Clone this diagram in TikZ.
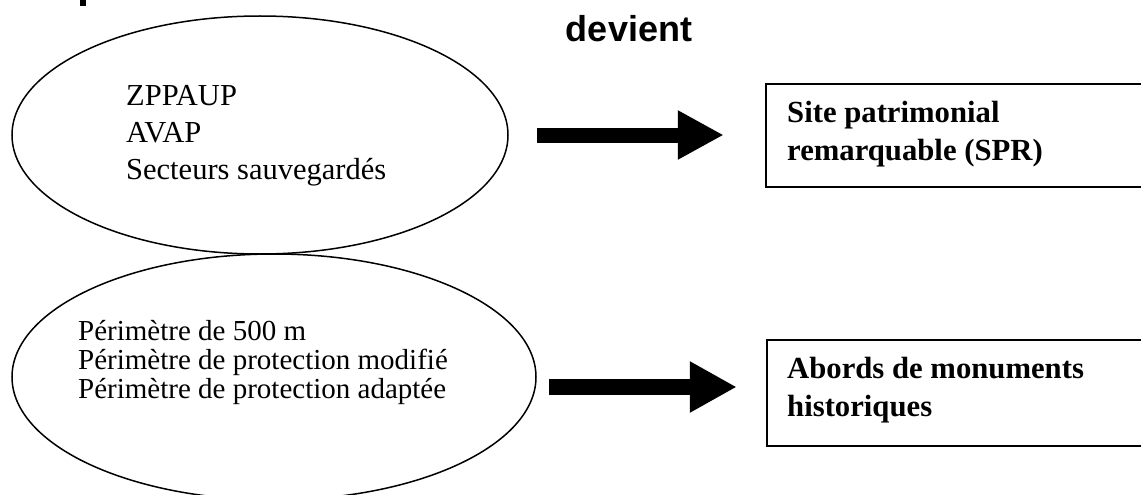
\documentclass[tikz,border=0pt]{standalone}
\usepackage{fontspec}
\setmainfont{Liberation Serif}
\newfontfamily\headfont{Liberation Sans}
\usetikzlibrary{shapes,positioning,arrows.meta,calc}

\tikzset{
	every node/.style = { align = left },
	zone/.style = { ellipse, draw, line width=1.5pt, inner sep=0pt },
	txt/.style = { font=\fontsize{30.5}{37}\selectfont, inner sep=0pt, anchor=base west },
	res/.style = { rectangle, draw, line width=1.8pt, minimum width=420pt, anchor=north west, inner sep=0pt },
	restxt/.style = { font=\fontsize{30.7}{38}\selectfont\bfseries, inner sep=0pt, anchor=base west },
	head/.style = { font=\headfont\bfseries\fontsize{36}{40}\selectfont, inner sep=0pt },
	conv/.style = { line width=15pt, -{Triangle[length=46pt,width=46pt]} },
}

\begin{document}
\begin{tikzpicture}[x=1pt,y=1pt]
\useasboundingbox (0,0) rectangle (1141,-495);

% stub of the heading above the page
\fill (80,1) rectangle (86,-6);
\node (dev)   [head, anchor=base] at (629,-42) {devient};

\node (zone)  [zone, minimum width=496pt, minimum height=238pt] at (260,-135) {};
\node (perim) [zone, minimum width=524pt, minimum height=246pt] at (274,-377) {};
\node (spr)   [res, minimum height=103pt] at (765,-83) {};
\node (amh)   [res, minimum height=106pt] at (766,-339) {};

\node (tzone)  [txt] at (126,-179) {ZPPAUP \\ AVAP \\ Secteurs sauvegardés};
\node (tperim) [txt, font=\fontsize{29}{28.7}\selectfont] at (78,-398)
	{Périmètre de 500 m \\ Périmètre de protection modifié \\ Périmètre de protection adaptée};
\node (tspr)   [restxt] at (787,-160) {Site patrimonial \\ remarquable (SPR)};
\node (tamh)   [restxt] at (787,-416) {Abords de monuments \\ historiques};

\draw[conv] ($(zone.east)+(28,0)$) -- ++(187,0);
\draw[conv, line width=16pt, -{Triangle[length=47pt,width=48pt]}] ($(perim.east)+(12,-10)$) -- ++(188,0);

\end{tikzpicture}
\end{document}
